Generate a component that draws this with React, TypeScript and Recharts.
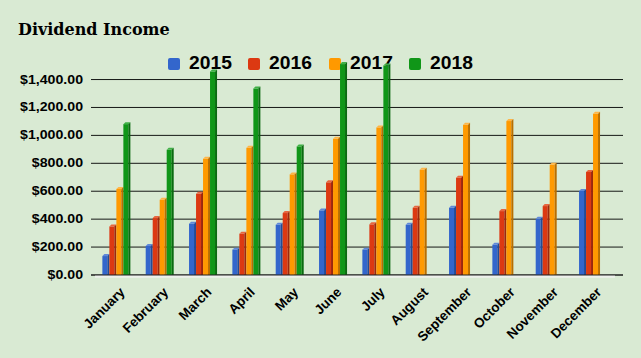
import { BarChart, Bar, XAxis, YAxis, CartesianGrid, ReferenceArea } from "recharts";

const MONTHS = [
  "January",
  "February",
  "March",
  "April",
  "May",
  "June",
  "July",
  "August",
  "September",
  "October",
  "November",
  "December",
];

const Y2015 = [150, 222, 382, 196, 374, 477, 196, 374, 496, 231, 417, 616];
const Y2016 = [362, 422, 596, 310, 458, 678, 377, 496, 711, 472, 508, 752];
const Y2017 = [631, 553, 847, 925, 735, 990, 1071, 768, 1090, 1117, 804, 1169];
const Y2018 = [1095, 911, 1472, 1350, 935, 1525, 1515, null, null, null, null, null];

const Y_TICKS = [0, 200, 400, 600, 800, 1000, 1200, 1400];

const SERIES = [
  { key: "2015", face: "#3366cc", side: "#234a96", top: "#5f88d9" },
  { key: "2016", face: "#dc3912", side: "#9c270c", top: "#e8663f" },
  { key: "2017", face: "#ff9900", side: "#b86e00", top: "#ffb547" },
  { key: "2018", face: "#109618", side: "#0a6a10", top: "#3fb046" },
];

const data = MONTHS.map((m, i) => ({
  month: m,
  "2015": Y2015[i],
  "2016": Y2016[i],
  "2017": Y2017[i],
  "2018": Y2018[i],
}));

const FONT = "'Liberation Sans', Arial, sans-serif";

// fake 3d bar: front face, darker right side, lighter top
const makeShape = (s: (typeof SERIES)[number]) => (props: any) => {
  const { x, y, width, height } = props;
  if (!height || height <= 0) return <g />;
  const d = 2;
  const fw = width - d;
  const h = height + 2; // bars sit slightly into the floor
  return (
    <g>
      <rect x={x} y={y + d} width={fw} height={h - d} fill={s.face} />
      <polygon
        points={`${x},${y + d} ${x + d},${y} ${x + width},${y} ${x + fw},${y + d}`}
        fill={s.top}
      />
      <polygon
        points={`${x + fw},${y + d} ${x + width},${y} ${x + width},${y + h - d} ${x + fw},${y + h}`}
        fill={s.side}
      />
    </g>
  );
};

const money = (v: number) =>
  "$" + v.toLocaleString("en-US", { minimumFractionDigits: 2, maximumFractionDigits: 2 });

const YTick = (props: any) => {
  const { x, y, payload } = props;
  return (
    <g transform={`translate(${x},${y})`}>
      <text
        transform="scale(1.18,1)"
        textAnchor="end"
        dy={4}
        fontFamily={FONT}
        fontWeight="bold"
        fontSize={12}
        fill="#000"
      >
        {money(payload.value)}
      </text>
    </g>
  );
};

const XTick = (props: any) => {
  const { x, y, payload } = props;
  return (
    <g transform={`translate(${x + 9},${y + 10})`}>
      <text
        transform="rotate(-45)"
        textAnchor="end"
        fontFamily={FONT}
        fontWeight="bold"
        fontSize={13.5}
        fill="#000"
      >
        {payload.value}
      </text>
    </g>
  );
};

export default function App() {
  return (
    <div
      style={{
        position: "absolute",
        left: 0,
        top: 0,
        width: 641,
        height: 358,
        background: "#d9ead3",
        overflow: "hidden",
      }}
    >
      <div
        style={{
          position: "absolute",
          left: 18,
          top: 20,
          fontFamily: "'DejaVu Serif', serif",
          fontWeight: "bold",
          fontSize: 16,
          color: "#000",
          whiteSpace: "nowrap",
        }}
      >
        Dividend Income
      </div>
      <div
        style={{
          position: "absolute",
          left: 0,
          top: 53,
          width: 641,
          display: "flex",
          justifyContent: "center",
          fontFamily: FONT,
          fontWeight: "bold",
          fontSize: 18,
        }}
      >
        {SERIES.map((s, i) => (
          <div
            key={s.key}
            style={{
              display: "flex",
              alignItems: "center",
              marginLeft: i === 0 ? 0 : 16,
            }}
          >
            <span
              style={{
                display: "inline-block",
                width: 12,
                height: 12,
                borderRadius: 2,
                background: s.face,
                marginRight: 9,
              }}
            />
            <span style={{ display: "inline-block", transform: "scaleX(1.07)", transformOrigin: "left" }}>
              {s.key}
            </span>
            <span style={{ display: "inline-block", width: 3 }} />
          </div>
        ))}
      </div>
      <div style={{ position: "absolute", left: 0, top: 0 }}>
        <BarChart
          width={641}
          height={358}
          data={data}
          margin={{ top: 60, right: 18, bottom: 0, left: 0 }}
          barCategoryGap="17%"
          barGap={0}
        >
          <CartesianGrid vertical={false} stroke="#000" strokeOpacity={0.9} horizontalValues={Y_TICKS} />
          <ReferenceArea y1={0} y2={-20} fill="#eef1ec" fillOpacity={1} ifOverflow="visible" />
          <XAxis
            dataKey="month"
            interval={0}
            tick={<XTick />}
            tickLine={false}
            axisLine={{ stroke: "#222" }}
            height={83}
            padding={{ left: 4, right: 8 }}
          />
          <YAxis
            width={91}
            domain={[0, 1540]}
            ticks={Y_TICKS}
            interval={0}
            tick={<YTick />}
            tickLine={false}
            axisLine={false}
            tickSize={0}
            tickMargin={8}
            allowDataOverflow
          />
          {SERIES.map((s) => (
            <Bar
              key={s.key}
              dataKey={s.key}
              shape={makeShape(s)}
              isAnimationActive={false}
            />
          ))}
        </BarChart>
      </div>
    </div>
  );
}
